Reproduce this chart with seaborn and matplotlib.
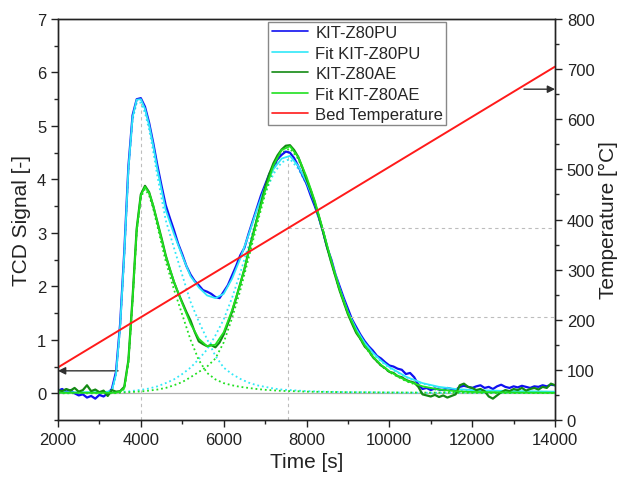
import matplotlib
matplotlib.use("Agg")
import matplotlib.pyplot as plt
import seaborn as sns
from matplotlib.ticker import MultipleLocator

sns.set_theme(style="ticks")
plt.rcParams['font.family'] = ['Liberation Sans', 'DejaVu Sans']

# ---------------- data ----------------
t_meas = list(range(2000, 14001, 100))
pu_meas = [0.05, 0.08, 0.03, 0.06, 0.0, -0.04, -0.02, -0.08, -0.05, -0.1,
           -0.03, -0.06, 0.0, 0.08, 0.4, 1.3, 2.65, 4.25, 5.2, 5.5,
           5.52, 5.36, 5.06, 4.68, 4.26, 3.88, 3.52, 3.28, 3.05, 2.8,
           2.6, 2.38, 2.22, 2.1, 2.02, 1.93, 1.9, 1.86, 1.8, 1.78,
           1.9, 2.02, 2.2, 2.38, 2.58, 2.72, 2.98, 3.22, 3.46, 3.7,
           3.9, 4.1, 4.24, 4.38, 4.46, 4.52, 4.5, 4.4, 4.25, 4.08,
           3.92, 3.7, 3.5, 3.28, 3.02, 2.72, 2.5, 2.22, 2.0, 1.78,
           1.58, 1.38, 1.24, 1.1, 0.98, 0.88, 0.8, 0.7, 0.65, 0.58,
           0.52, 0.5, 0.46, 0.44, 0.36, 0.38, 0.3, 0.16, 0.08, 0.1,
           0.06, 0.09, 0.07, 0.06, 0.1, 0.08, 0.06, 0.12, 0.14, 0.12,
           0.1, 0.13, 0.15, 0.1, 0.12, 0.08, 0.13, 0.16, 0.12, 0.1,
           0.13, 0.11, 0.14, 0.12, 0.1, 0.13, 0.12, 0.15, 0.13, 0.16,
           0.15]
ae_meas = [0.06, 0.04, 0.08, 0.05, 0.1, 0.03, 0.06, 0.15, 0.04, 0.07,
           0.02, 0.05, -0.05, 0.06, 0.03, 0.04, 0.12, 0.62, 1.78, 3.08,
           3.72, 3.88, 3.76, 3.5, 3.2, 2.9, 2.58, 2.32, 2.08, 1.88,
           1.7, 1.52, 1.36, 1.15, 0.97, 0.92, 0.88, 0.9, 0.86, 0.95,
           1.1, 1.3, 1.52, 1.78, 2.05, 2.32, 2.65, 2.95, 3.25, 3.55,
           3.85, 4.1, 4.3, 4.45, 4.56, 4.63, 4.64, 4.55, 4.42, 4.22,
           4.0, 3.8, 3.56, 3.3, 3.02, 2.72, 2.44, 2.18, 1.92, 1.7,
           1.48, 1.3, 1.13, 1.02, 0.88, 0.8, 0.68, 0.6, 0.52, 0.47,
           0.4, 0.38, 0.32, 0.3, 0.25, 0.22, 0.2, 0.12, -0.02, -0.04,
           -0.06, -0.03, -0.07, -0.04, -0.08, -0.05, -0.02, 0.15, 0.18, 0.12,
           0.1, 0.06, 0.08, 0.04, -0.06, -0.1, -0.04, 0.02, 0.06, 0.04,
           0.08, 0.06, 0.1, 0.05, 0.08, 0.1, 0.07, 0.12, 0.1, 0.18,
           0.15]

t_fit = [2000, 2500, 3000, 3200, 3300, 3400, 3500, 3600, 3700, 3800, 3900,
         4000, 4100, 4200, 4300, 4400, 4600, 4800, 5000, 5200, 5400, 5600,
         5800, 6000, 6200, 6400, 6600, 6800, 7000, 7200, 7400, 7600, 7800,
         8000, 8200, 8400, 8600, 8800, 9000, 9200, 9400, 9600, 9800, 10000,
         10400, 10800, 11200, 11600, 12000, 13000, 14000]
pu_fit = [0.02, 0.02, 0.02, 0.03, 0.05, 0.35, 1.25, 2.6, 4.2, 5.16, 5.49,
          5.5, 5.32, 5.02, 4.63, 4.19, 3.43, 2.98, 2.57, 2.19, 1.98, 1.83,
          1.78, 1.86, 2.14, 2.52, 2.96, 3.43, 3.86, 4.19, 4.39, 4.44, 4.25,
          3.95, 3.55, 3.03, 2.47, 1.96, 1.52, 1.2, 0.95, 0.76, 0.61, 0.49,
          0.31, 0.19, 0.12, 0.08, 0.06, 0.04, 0.03]
pu_peak1 = [0.005, 0.005, 0.005, 0.01, 0.03, 0.33, 1.225, 2.57, 4.165, 5.115,
            5.435, 5.435, 5.245, 4.93, 4.52, 4.06, 3.24, 2.72, 2.21, 1.71,
            1.34, 1.01, 0.70, 0.48, 0.36, 0.27, 0.2, 0.15, 0.12, 0.09, 0.07,
            0.06, 0.05, 0.04, 0.035, 0.03, 0.027, 0.025, 0.02, 0.02, 0.02,
            0.02, 0.015, 0.015, 0.012, 0.01, 0.01, 0.01, 0.01, 0.007, 0.005]
pu_peak2 = [0.01, 0.012, 0.015, 0.017, 0.02, 0.02, 0.025, 0.03, 0.035, 0.045,
            0.055, 0.065, 0.075, 0.09, 0.11, 0.13, 0.19, 0.26, 0.36, 0.48,
            0.64, 0.82, 1.08, 1.38, 1.78, 2.25, 2.76, 3.28, 3.74, 4.1, 4.32,
            4.38, 4.2, 3.91, 3.515, 3.0, 2.443, 1.935, 1.5, 1.18, 0.93, 0.74,
            0.595, 0.475, 0.3, 0.18, 0.11, 0.07, 0.05, 0.033, 0.025]
ae_fit = [0.01, 0.01, 0.01, 0.01, 0.01, 0.015, 0.03, 0.1, 0.6, 1.75, 3.05,
          3.7, 3.86, 3.75, 3.51, 3.19, 2.57, 2.09, 1.68, 1.30, 1.02, 0.88,
          0.91, 1.14, 1.55, 2.04, 2.62, 3.22, 3.79, 4.26, 4.55, 4.62, 4.42,
          4.05, 3.6, 3.05, 2.47, 1.94, 1.5, 1.16, 0.9, 0.69, 0.53, 0.41,
          0.24, 0.13, 0.07, 0.04, 0.025, 0.015, 0.01]
ae_peak1 = [0, 0, 0, 0, 0, 0.003, 0.015, 0.083, 0.58, 1.725, 3.02, 3.665,
            3.82, 3.70, 3.45, 3.12, 2.47, 1.94, 1.47, 1.0, 0.62, 0.38, 0.26,
            0.19, 0.15, 0.12, 0.1, 0.08, 0.065, 0.055, 0.045, 0.04, 0.037,
            0.03, 0.028, 0.026, 0.024, 0.022, 0.02, 0.019, 0.018, 0.017,
            0.016, 0.015, 0.014, 0.013, 0.012, 0.011, 0.01, 0.007, 0.005]
ae_peak2 = [0.005, 0.006, 0.008, 0.009, 0.01, 0.012, 0.015, 0.017, 0.02,
            0.025, 0.03, 0.035, 0.04, 0.05, 0.06, 0.07, 0.1, 0.15, 0.21, 0.3,
            0.4, 0.5, 0.65, 0.95, 1.4, 1.92, 2.52, 3.14, 3.72, 4.2, 4.5, 4.58,
            4.383, 4.02, 3.572, 3.024, 2.446, 1.918, 1.48, 1.141, 0.882,
            0.673, 0.514, 0.395, 0.226, 0.117, 0.058, 0.029, 0.015, 0.008,
            0.005]

t_bed = [2000, 14000]
bed_temp = [105, 705]

peak_times = [4000, 7560]
peak_tops = [5.5, 4.55]
peak_temps = [205, 383]
hline_starts = [5350, 7560]

# ---------------- figure ----------------
fig = plt.figure(figsize=(6.23, 4.81), dpi=100)
ax = fig.add_axes([0.0931, 0.1247, 0.7978, 0.8337])
ax2 = ax.twinx()

grid_kw = dict(color='#bdbdbd', lw=0.8, ls=(0, (3, 3)), zorder=0)
ax.axhline(0, color='#b0b0b0', lw=0.9, zorder=0)
for tp, top in zip(peak_times, peak_tops):
    ax.plot([tp, tp], [-0.5, top], **grid_kw)

c_pu, c_pufit = '#1010f0', '#30e8f8'
c_ae, c_aefit = '#138a13', '#20e020'

sns.lineplot(x=t_meas, y=pu_meas, ax=ax, color=c_pu, lw=1.6, label='KIT-Z80PU',
             estimator=None, sort=False, zorder=3)
sns.lineplot(x=t_fit, y=pu_fit, ax=ax, color=c_pufit, lw=1.3, label='Fit KIT-Z80PU',
             estimator=None, sort=False, zorder=4)
sns.lineplot(x=t_meas, y=ae_meas, ax=ax, color=c_ae, lw=1.6, label='KIT-Z80AE',
             estimator=None, sort=False, zorder=5)
sns.lineplot(x=t_fit, y=ae_fit, ax=ax, color=c_aefit, lw=1.3, label='Fit KIT-Z80AE',
             estimator=None, sort=False, zorder=6)
dot = (0, (1, 1.6))
for yv, col in [(pu_peak1, c_pufit), (pu_peak2, c_pufit),
                (ae_peak1, c_aefit), (ae_peak2, c_aefit)]:
    ax.plot(t_fit, yv, color=col, lw=1.3, ls=dot, zorder=2)

ax.annotate('', xy=(2000, 0.42), xytext=(3450, 0.42),
            arrowprops=dict(arrowstyle='-|>', color='#303030', lw=1.0,
                            mutation_scale=11, shrinkA=0, shrinkB=0))

for tp, tt, x0 in zip(peak_times, peak_temps, hline_starts):
    ax2.plot([x0, 14000], [tt, tt], **grid_kw)
sns.lineplot(x=t_bed, y=bed_temp, ax=ax2, color='#ff1a1a', lw=1.4,
             label='Bed Temperature', estimator=None, sort=False)
ax2.annotate('', xy=(14000, 660), xytext=(13250, 660),
             arrowprops=dict(arrowstyle='-|>', color='#303030', lw=1.0,
                             mutation_scale=11, shrinkA=0, shrinkB=0))

ax.set_xlim(2000, 14000)
ax.set_ylim(-0.5, 7)
ax2.set_ylim(0, 800)
ax.xaxis.set_major_locator(MultipleLocator(2000))
ax.xaxis.set_minor_locator(MultipleLocator(1000))
ax.yaxis.set_major_locator(MultipleLocator(1))
ax.yaxis.set_minor_locator(MultipleLocator(0.5))
ax2.yaxis.set_major_locator(MultipleLocator(100))
ax2.yaxis.set_minor_locator(MultipleLocator(50))

for a in (ax, ax2):
    a.tick_params(which='major', direction='out', length=5, width=1,
                  labelsize=12, colors='#222222')
    a.tick_params(which='minor', direction='out', length=3, width=1)
    for s in a.spines.values():
        s.set_color('#222222')
        s.set_linewidth(1.0)
        s.set_visible(True)

ax.set_xlabel('Time [s]', fontsize=15, color='#222222', labelpad=4)
ax.set_ylabel('TCD Signal [-]', fontsize=15, color='#222222', labelpad=4)
ax2.set_ylabel('Temperature [°C]', fontsize=15, color='#222222', labelpad=3)

h1, l1 = ax.get_legend_handles_labels()
h2, l2 = ax2.get_legend_handles_labels()
if ax.get_legend() is not None:
    ax.get_legend().remove()
if ax2.get_legend() is not None:
    ax2.get_legend().remove()
leg = ax2.legend(h1 + h2, l1 + l2, loc='upper left', bbox_to_anchor=(0.4235, 0.993),
                 borderaxespad=0, fontsize=12, frameon=True, fancybox=False,
                 edgecolor='#888888', framealpha=1, labelspacing=0.33,
                 handlelength=2.2, handletextpad=0.4, borderpad=0.2)
leg.get_frame().set_linewidth(1.0)
for line in leg.get_lines():
    line.set_linewidth(1.2)

fig.savefig('out.png', dpi=100)
